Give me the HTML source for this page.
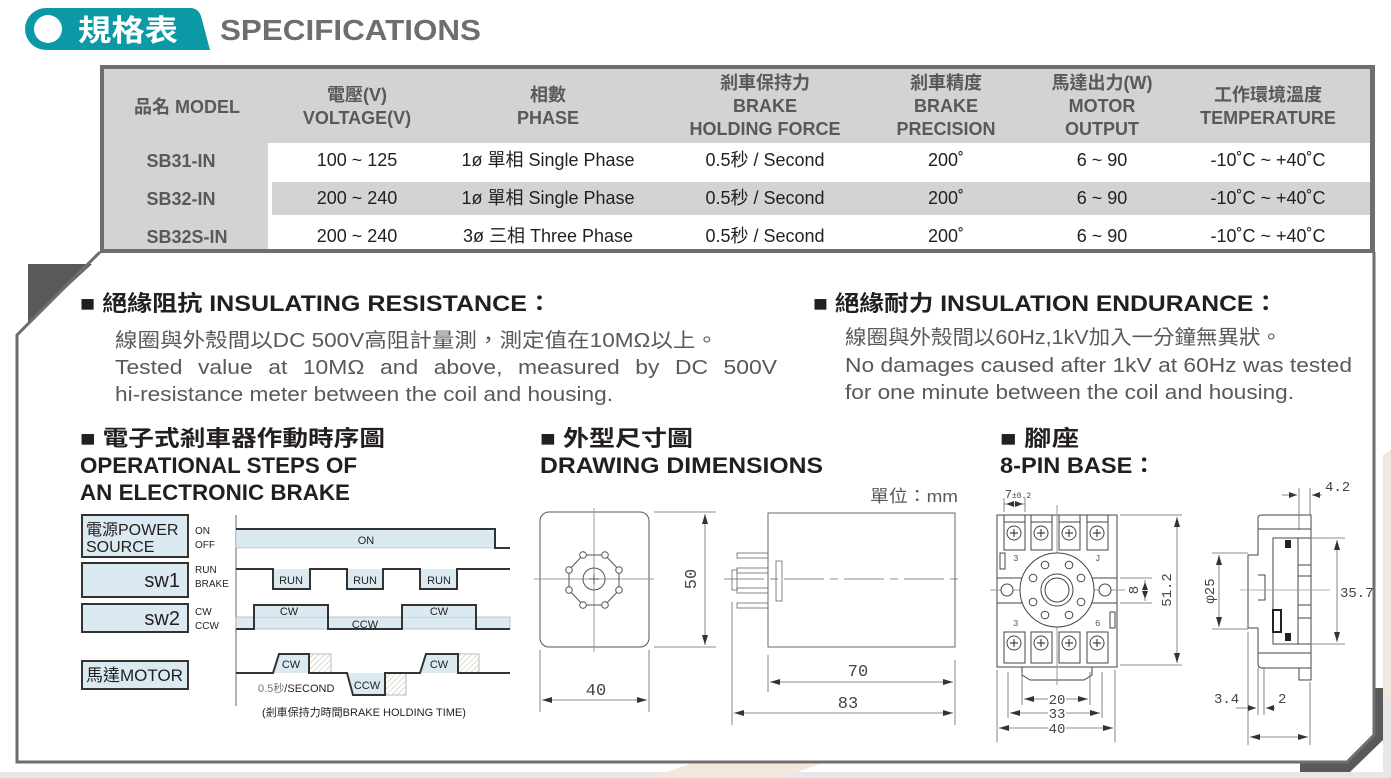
<!DOCTYPE html>
<html><head><meta charset="utf-8"><style>
html,body{margin:0;padding:0;background:#fff;}
svg{display:block}
text{font-family:"Liberation Sans","Noto Sans CJK TC",sans-serif;}
text.m,.m text{font-family:"Liberation Mono","Noto Sans CJK TC",monospace;}
</style></head><body>
<svg width="1391" height="778" viewBox="0 0 1391 778" xmlns="http://www.w3.org/2000/svg">
<defs>
<pattern id="h" width="4" height="4" patternUnits="userSpaceOnUse" patternTransform="rotate(45)">
<line x1="0" y1="0" x2="0" y2="4" stroke="#c9c2b0" stroke-width="1.2"/></pattern>
</defs>
<polygon points="1383,455 1391,450 1391,700 1383,705" fill="#f1e7dc"/>
<rect x="1383" y="700" width="8" height="78" fill="#e6e7e8"/>
<rect x="0" y="772" width="1391" height="6" fill="#e6e7e8"/>
<polygon points="650,778 690,764 820,764 780,778" fill="#f1e7dc"/>
<polygon points="1375,688 1383,688 1383,740 1350,772 1300,772 1300,763 1347,763 1375,735" fill="#58595b"/>
<polygon points="28,264 92,264 28,323" fill="#58595b"/>
<path d="M100,252 L17,335 L17,762 L1347,762 L1374,735 L1374,252" fill="none" stroke="#6d6e70" stroke-width="3"/>

<path d="M46,8 L190,8 Q198,8 201,16 L210,50 L46,50 A21,21 0 0 1 46,8 Z" fill="#0b9aa5"/>
<circle cx="48" cy="29" r="14" fill="#fff"/>
<text x="78" y="41" font-size="30" font-weight="bold" fill="#fff" textLength="100" lengthAdjust="spacingAndGlyphs">規格表</text>
<text x="220" y="40" font-size="29" font-weight="bold" fill="#6d6e70" textLength="261" lengthAdjust="spacingAndGlyphs">SPECIFICATIONS</text>

<rect x="100" y="65" width="1275" height="188" fill="#6d6e70"/>
<rect x="104" y="69" width="1266" height="180" fill="#fff"/>
<rect x="104" y="69" width="1266" height="74" fill="#d1d3d4"/>
<rect x="104" y="143" width="164" height="106" fill="#d1d3d4"/>
<rect x="272" y="182" width="1098" height="33" fill="#d1d3d4"/>
<g font-size="18" font-weight="bold" fill="#58595b" text-anchor="middle">
<text x="187" y="113">品名 MODEL</text>
<text x="357" y="101">電壓(V)</text><text x="357" y="124">VOLTAGE(V)</text>
<text x="548" y="101">相數</text><text x="548" y="124">PHASE</text>
<text x="765" y="89">剎車保持力</text><text x="765" y="112">BRAKE</text><text x="765" y="135">HOLDING FORCE</text>
<text x="946" y="89">剎車精度</text><text x="946" y="112">BRAKE</text><text x="946" y="135">PRECISION</text>
<text x="1102" y="89">馬達出力(W)</text><text x="1102" y="112">MOTOR</text><text x="1102" y="135">OUTPUT</text>
<text x="1268" y="101">工作環境溫度</text><text x="1268" y="124">TEMPERATURE</text>
<text x="181" y="167">SB31-IN</text><text x="181" y="205">SB32-IN</text><text x="187" y="243">SB32S-IN</text>
</g>
<g font-size="18" fill="#231f20" text-anchor="middle">
<text x="357" y="166">100 ~ 125</text><text x="357" y="204">200 ~ 240</text><text x="357" y="242">200 ~ 240</text>
<text x="548" y="166">1ø 單相  Single Phase</text><text x="548" y="204">1ø 單相  Single Phase</text><text x="548" y="242">3ø 三相  Three Phase</text>
<text x="765" y="166">0.5秒  / Second</text><text x="765" y="204">0.5秒  / Second</text><text x="765" y="242">0.5秒  / Second</text>
<text x="946" y="166">200˚</text><text x="946" y="204">200˚</text><text x="946" y="242">200˚</text>
<text x="1102" y="166">6 ~ 90</text><text x="1102" y="204">6 ~ 90</text><text x="1102" y="242">6 ~ 90</text>
<text x="1268" y="166">-10˚C ~ +40˚C</text><text x="1268" y="204">-10˚C ~ +40˚C</text><text x="1268" y="242">-10˚C ~ +40˚C</text>
</g>

<g font-weight="bold" fill="#231f20">
<text x="80" y="311" font-size="22" textLength="472" lengthAdjust="spacingAndGlyphs">■ 絕緣阻抗 INSULATING RESISTANCE：</text>
<text x="813" y="311" font-size="22" textLength="465" lengthAdjust="spacingAndGlyphs">■ 絕緣耐力 INSULATION ENDURANCE：</text>
<text x="80" y="446" font-size="22" textLength="305" lengthAdjust="spacingAndGlyphs">■ 電子式剎車器作動時序圖</text>
<text x="80" y="473" font-size="22" textLength="277" lengthAdjust="spacingAndGlyphs">OPERATIONAL STEPS OF</text>
<text x="80" y="500" font-size="22" textLength="270" lengthAdjust="spacingAndGlyphs">AN ELECTRONIC BRAKE</text>
<text x="540" y="446" font-size="22" textLength="153" lengthAdjust="spacingAndGlyphs">■ 外型尺寸圖</text>
<text x="540" y="473" font-size="22" textLength="283" lengthAdjust="spacingAndGlyphs">DRAWING DIMENSIONS</text>
<text x="1000" y="446" font-size="22" textLength="79" lengthAdjust="spacingAndGlyphs">■ 腳座</text>
<text x="1000" y="473" font-size="22" textLength="156" lengthAdjust="spacingAndGlyphs">8-PIN BASE：</text>
</g>
<g font-size="20" fill="#58595b">
<text x="115" y="347" textLength="603" lengthAdjust="spacingAndGlyphs">線圈與外殼間以DC 500V高阻計量測，測定值在10MΩ以上。</text>
<text x="115" y="374" textLength="662" lengthAdjust="spacingAndGlyphs" word-spacing="8">Tested value at 10MΩ  and above, measured by DC 500V</text>
<text x="115" y="401" textLength="498" lengthAdjust="spacingAndGlyphs">hi-resistance meter between the coil and housing.</text>
<text x="845" y="344" textLength="437" lengthAdjust="spacingAndGlyphs">線圈與外殼間以60Hz,1kV加入一分鐘無異狀。</text>
<text x="845" y="372" textLength="507" lengthAdjust="spacingAndGlyphs">No damages caused after 1kV at 60Hz was tested</text>
<text x="845" y="399" textLength="449" lengthAdjust="spacingAndGlyphs">for one minute between the coil and housing.</text>
<text x="870" y="502" font-size="17" textLength="88" lengthAdjust="spacingAndGlyphs">單位：mm</text>
</g>

<g stroke="#333" stroke-width="2" fill="#dbe9f1">
<rect x="82" y="515" width="106" height="42"/>
<rect x="82" y="563" width="106" height="34"/>
<rect x="82" y="604" width="106" height="28"/>
<rect x="82" y="661" width="106" height="28"/>
</g>
<g fill="#231f20">
<text x="86" y="535" font-size="16">電源POWER</text>
<text x="86" y="552" font-size="16">SOURCE</text>
<text x="180" y="587" font-size="20" text-anchor="end">sw1</text>
<text x="180" y="625" font-size="20" text-anchor="end">sw2</text>
<text x="86" y="681" font-size="17">馬達MOTOR</text>
<g font-size="10"><text x="195" y="534">ON</text><text x="195" y="548">OFF</text>
<text x="195" y="573">RUN</text><text x="195" y="587">BRAKE</text>
<text x="195" y="615">CW</text><text x="195" y="629">CCW</text></g>
</g>
<line x1="236" y1="515" x2="236" y2="706" stroke="#666" stroke-width="1"/>
<rect x="236" y="529" width="259" height="19" fill="#dbe9f1" stroke="#9aa" stroke-width="0.5"/>
<polyline points="236,529 495,529 495,548 510,548" fill="none" stroke="#333" stroke-width="2"/>
<g fill="#dbe9f1"><rect x="273" y="569" width="37" height="20"/><rect x="347" y="569" width="36" height="20"/><rect x="420" y="569" width="37" height="20"/></g>
<polyline points="236,569 273,569 273,589 310,589 310,569 347,569 347,589 383,589 383,569 420,569 420,589 457,589 457,569 510,569" fill="none" stroke="#333" stroke-width="2"/>
<rect x="236" y="617" width="274" height="12" fill="#dbe9f1" stroke="#aab" stroke-width="0.7"/>
<g fill="#dbe9f1"><rect x="254" y="605" width="74" height="12"/><rect x="402" y="605" width="74" height="12"/></g>
<polyline points="236,629 254,629 254,605 328,605 328,629 402,629 402,605 476,605 476,629 510,629" fill="none" stroke="#333" stroke-width="2"/>
<g fill="#dbe9f1"><polygon points="273,673 279,654 309,654 309,673"/><polygon points="347,673 353,695 385,695 385,673"/><polygon points="420,673 426,654 458,654 458,673"/></g>
<g fill="url(#h)" stroke="#aaa" stroke-width="0.8"><rect x="309" y="654" width="22" height="19"/><rect x="385" y="673" width="21" height="22"/><rect x="458" y="654" width="21" height="19"/></g>
<polyline points="236,673 273,673 279,654 309,654 309,673 347,673 353,695 385,695 385,673 420,673 426,654 458,654 458,673 510,673" fill="none" stroke="#333" stroke-width="2"/>
<g font-size="11" fill="#231f20" text-anchor="middle">
<text x="366" y="544">ON</text>
<text x="291" y="584">RUN</text><text x="365" y="584">RUN</text><text x="439" y="584">RUN</text>
<text x="289" y="615">CW</text><text x="365" y="628">CCW</text><text x="439" y="615">CW</text>
<text x="291" y="668">CW</text><text x="367" y="689">CCW</text><text x="439" y="668">CW</text>
</g>
<text x="258" y="692" font-size="11" fill="#231f20"><tspan fill="#777">0.5秒</tspan>/SECOND</text>
<text x="262" y="716" font-size="11" fill="#231f20">(剎車保持力時間BRAKE HOLDING TIME)</text>

<g stroke="#555" stroke-width="1" fill="none">
<rect x="540" y="512" width="109" height="135" rx="9"/>
<line x1="594" y1="508" x2="594" y2="652" stroke="#999"/>
<line x1="534" y1="579" x2="654" y2="579" stroke="#999"/>
<circle cx="594" cy="579" r="11"/>
<line x1="589" y1="579" x2="599" y2="579"/><line x1="594" y1="574" x2="594" y2="584"/>
<polygon points="583,555 605,555 619,570 619,590 605,605 583,605 569,590 569,570"/>
</g>
<g fill="#fff" stroke="#555" stroke-width="1">
<circle cx="583" cy="555" r="3.3"/><circle cx="605" cy="555" r="3.3"/><circle cx="619" cy="570" r="3.3"/><circle cx="619" cy="590" r="3.3"/>
<circle cx="605" cy="605" r="3.3"/><circle cx="583" cy="605" r="3.3"/><circle cx="569" cy="590" r="3.3"/><circle cx="569" cy="570" r="3.3"/>
</g>
<g stroke="#666" stroke-width="0.8" fill="none">
<line x1="654" y1="512" x2="716" y2="512"/><line x1="654" y1="647" x2="716" y2="647"/>
<line x1="705" y1="514" x2="705" y2="645"/>
<line x1="540" y1="650" x2="540" y2="712"/><line x1="649" y1="650" x2="649" y2="712"/>
<line x1="542" y1="700" x2="647" y2="700"/>
<rect x="768" y="513" width="187" height="134" stroke="#444"/>
<rect x="737" y="553" width="31" height="5"/><rect x="737" y="568" width="31" height="5"/><rect x="737" y="588" width="31" height="5"/><rect x="737" y="603" width="31" height="5"/>
<rect x="732" y="570" width="5" height="20"/>
<rect x="776" y="561" width="6" height="40"/>
<line x1="724" y1="579" x2="963" y2="579" stroke-dasharray="40,6,8,6"/>
<line x1="768" y1="655" x2="768" y2="692"/><line x1="955" y1="660" x2="955" y2="725"/>
<line x1="770" y1="682" x2="953" y2="682"/>
<line x1="732" y1="602" x2="732" y2="725"/>
<line x1="734" y1="713" x2="953" y2="713"/>
</g>
<g fill="#333">
<polygon points="705,514 702,524 708,524"/><polygon points="705,645 702,635 708,635"/>
<polygon points="542,700 552,697 552,703"/><polygon points="647,700 637,697 637,703"/>
<polygon points="770,682 780,679 780,685"/><polygon points="953,682 943,679 943,685"/>
<polygon points="734,713 744,710 744,716"/><polygon points="953,713 943,710 943,716"/>
</g>
<g class="m" font-size="17" fill="#444">
<text x="596" y="695" text-anchor="middle">40</text>
<text x="858" y="676" text-anchor="middle">70</text>
<text x="848" y="708" text-anchor="middle">83</text>
<text transform="translate(696,579) rotate(-90)" text-anchor="middle">50</text>
</g>

<g stroke="#444" stroke-width="1" fill="none">
<rect x="997" y="515" width="120" height="152"/>
<line x1="997" y1="578" x2="1117" y2="578"/><line x1="997" y1="603" x2="1117" y2="603"/>
<path d="M1022,667 L1022,675 L1030,680 L1084,680 L1092,675 L1092,667"/>
<line x1="1057" y1="505" x2="1057" y2="685" stroke="#999"/>
<line x1="990" y1="590" x2="1125" y2="590" stroke="#999"/>
<circle cx="1057" cy="590" r="37" fill="#fff"/>
<circle cx="1057" cy="590" r="16"/><circle cx="1057" cy="590" r="12"/>
<circle cx="1007" cy="590" r="6" fill="#fff"/><circle cx="1105" cy="590" r="6" fill="#fff"/>
<rect x="1000" y="553" width="5" height="16"/><rect x="1110" y="612" width="5" height="16"/>
</g>
<g stroke="#444" stroke-width="1" fill="#fff">
<circle cx="1045" cy="565" r="3.8"/><circle cx="1069" cy="565" r="3.8"/><circle cx="1081" cy="578" r="3.8"/><circle cx="1081" cy="602" r="3.8"/>
<circle cx="1069" cy="615" r="3.8"/><circle cx="1045" cy="615" r="3.8"/><circle cx="1033" cy="602" r="3.8"/><circle cx="1033" cy="578" r="3.8"/>
</g>
<g stroke="#444" stroke-width="1" fill="#fff">
<rect x="1004" y="515" width="21" height="35"/><rect x="1031" y="515" width="21" height="35"/><rect x="1059" y="515" width="21" height="35"/><rect x="1087" y="515" width="21" height="35"/>
<rect x="1004" y="632" width="21" height="31"/><rect x="1031" y="632" width="21" height="31"/><rect x="1059" y="632" width="21" height="31"/><rect x="1087" y="632" width="21" height="31"/>
<line x1="1004" y1="522" x2="1025" y2="522"/><line x1="1031" y1="522" x2="1052" y2="522"/><line x1="1059" y1="522" x2="1080" y2="522"/><line x1="1087" y1="522" x2="1108" y2="522"/>
<circle cx="1014" cy="533" r="7"/><circle cx="1041" cy="533" r="7"/><circle cx="1069" cy="533" r="7"/><circle cx="1097" cy="533" r="7"/>
<circle cx="1014" cy="643" r="7"/><circle cx="1041" cy="643" r="7"/><circle cx="1069" cy="643" r="7"/><circle cx="1097" cy="643" r="7"/>
</g>
<g stroke="#444" stroke-width="1.2">
<path d="M1010,533h8M1014,529v8M1037,533h8M1041,529v8M1065,533h8M1069,529v8M1093,533h8M1097,529v8"/>
<path d="M1010,643h8M1014,639v8M1037,643h8M1041,639v8M1065,643h8M1069,639v8M1093,643h8M1097,639v8"/>
</g>
<g class="m" font-size="9" fill="#555">
<text x="1013" y="561">3</text><text x="1095" y="561">J</text>
<text x="1013" y="626">3</text><text x="1095" y="626">6</text>
</g>
<g stroke="#666" stroke-width="0.8" fill="none">
<line x1="1004" y1="498" x2="1004" y2="512"/><line x1="1025" y1="498" x2="1025" y2="512"/>
<line x1="1004" y1="504" x2="1025" y2="504"/>
<line x1="1120" y1="515" x2="1182" y2="515"/><line x1="1120" y1="665" x2="1182" y2="665"/>
<line x1="1177" y1="517" x2="1177" y2="663"/>
<line x1="1120" y1="578" x2="1152" y2="578"/><line x1="1120" y1="603" x2="1152" y2="603"/>
<line x1="1145" y1="580" x2="1145" y2="601"/>
<line x1="1022" y1="672" x2="1022" y2="705"/><line x1="1090" y1="672" x2="1090" y2="705"/>
<line x1="1008" y1="672" x2="1008" y2="718"/><line x1="1102" y1="672" x2="1102" y2="718"/>
<line x1="997" y1="670" x2="997" y2="742"/><line x1="1115" y1="670" x2="1115" y2="742"/>
<line x1="1024" y1="699" x2="1048" y2="699"/><line x1="1066" y1="699" x2="1088" y2="699"/>
<line x1="1010" y1="713" x2="1048" y2="713"/><line x1="1066" y1="713" x2="1100" y2="713"/>
<line x1="999" y1="728" x2="1048" y2="728"/><line x1="1066" y1="728" x2="1113" y2="728"/>
</g>
<g fill="#333">
<polygon points="1177,517 1174,527 1180,527"/><polygon points="1177,663 1174,653 1180,653"/>
<polygon points="1145,582 1142,590 1148,590"/><polygon points="1145,599 1142,591 1148,591"/>
<polygon points="1024,699 1034,696 1034,702"/><polygon points="1088,699 1078,696 1078,702"/>
<polygon points="1010,713 1020,710 1020,716"/><polygon points="1100,713 1090,710 1090,716"/>
<polygon points="999,728 1009,725 1009,731"/><polygon points="1113,728 1103,725 1103,731"/>
<polygon points="1006,504 1014,501 1014,507"/><polygon points="1023,504 1015,501 1015,507"/>
</g>
<g class="m" font-size="14" fill="#444" text-anchor="middle">
<text x="1057" y="704">20</text>
<text x="1057" y="718">33</text>
<text x="1057" y="733">40</text>
<text transform="translate(1171,590) rotate(-90)">51.2</text>
<text transform="translate(1138,590) rotate(-90)">8</text>
<text x="1018" y="498" font-size="12">7<tspan font-size="8">±0.2</tspan></text>
</g>

<g stroke="#444" stroke-width="1" fill="#fff">
<path d="M1248,555 L1258,555 L1258,518 Q1258,515 1262,515 L1311,515 L1311,668 L1262,668 Q1258,668 1258,664 L1258,628 L1248,628 Z"/>
<rect x="1273" y="538" width="38" height="106"/>
<line x1="1258" y1="529" x2="1311" y2="529"/><line x1="1258" y1="653" x2="1311" y2="653"/>
<line x1="1298" y1="538" x2="1298" y2="644"/>
<rect x="1298" y="565" width="13" height="11"/><rect x="1298" y="605" width="13" height="13"/>
<path d="M1258,575 L1265,575 L1265,600 L1258,600"/>
<rect x="1299" y="668" width="12" height="12"/>
</g>
<g fill="#222"><rect x="1285" y="540" width="6" height="8"/><rect x="1285" y="633" width="6" height="8"/><rect x="1273" y="610" width="8" height="22" fill="none" stroke="#222" stroke-width="2"/></g>
<g stroke="#666" stroke-width="0.8" fill="none">
<line x1="1240" y1="590" x2="1330" y2="590" stroke="#999"/>
<line x1="1299" y1="488" x2="1299" y2="530"/><line x1="1310" y1="488" x2="1310" y2="515"/>
<line x1="1282" y1="495" x2="1297" y2="495"/><line x1="1312" y1="495" x2="1322" y2="495"/>
<line x1="1312" y1="538" x2="1345" y2="538"/><line x1="1312" y1="644" x2="1345" y2="644"/>
<line x1="1337" y1="540" x2="1337" y2="642"/>
<line x1="1212" y1="553" x2="1248" y2="553"/><line x1="1212" y1="629" x2="1248" y2="629"/>
<line x1="1219" y1="555" x2="1219" y2="627"/>
<line x1="1248" y1="632" x2="1248" y2="745"/><line x1="1258" y1="668" x2="1258" y2="715"/><line x1="1264" y1="668" x2="1264" y2="715"/><line x1="1310" y1="682" x2="1310" y2="745"/>
<line x1="1236" y1="708" x2="1256" y2="708"/><line x1="1266" y1="708" x2="1275" y2="708"/>
<line x1="1250" y1="737" x2="1308" y2="737"/>
</g>
<g fill="#333">
<polygon points="1297,495 1289,492 1289,498"/><polygon points="1312,495 1320,492 1320,498"/>
<polygon points="1337,540 1334,550 1340,550"/><polygon points="1337,642 1334,632 1340,632"/>
<polygon points="1219,555 1216,565 1222,565"/><polygon points="1219,627 1216,617 1222,617"/>
<polygon points="1256,708 1248,705 1248,711"/><polygon points="1266,708 1274,705 1274,711"/>
<polygon points="1250,737 1260,734 1260,740"/><polygon points="1308,737 1298,734 1298,740"/>
</g>
<g class="m" font-size="14" fill="#444">
<text x="1325" y="491">4.2</text>
<text x="1340" y="597">35.7</text>
<text x="1214" y="703">3.4</text>
<text x="1278" y="703">2</text>
<text transform="translate(1214,591) rotate(-90)" text-anchor="middle">φ25</text>
</g>
</svg>
</body></html>
